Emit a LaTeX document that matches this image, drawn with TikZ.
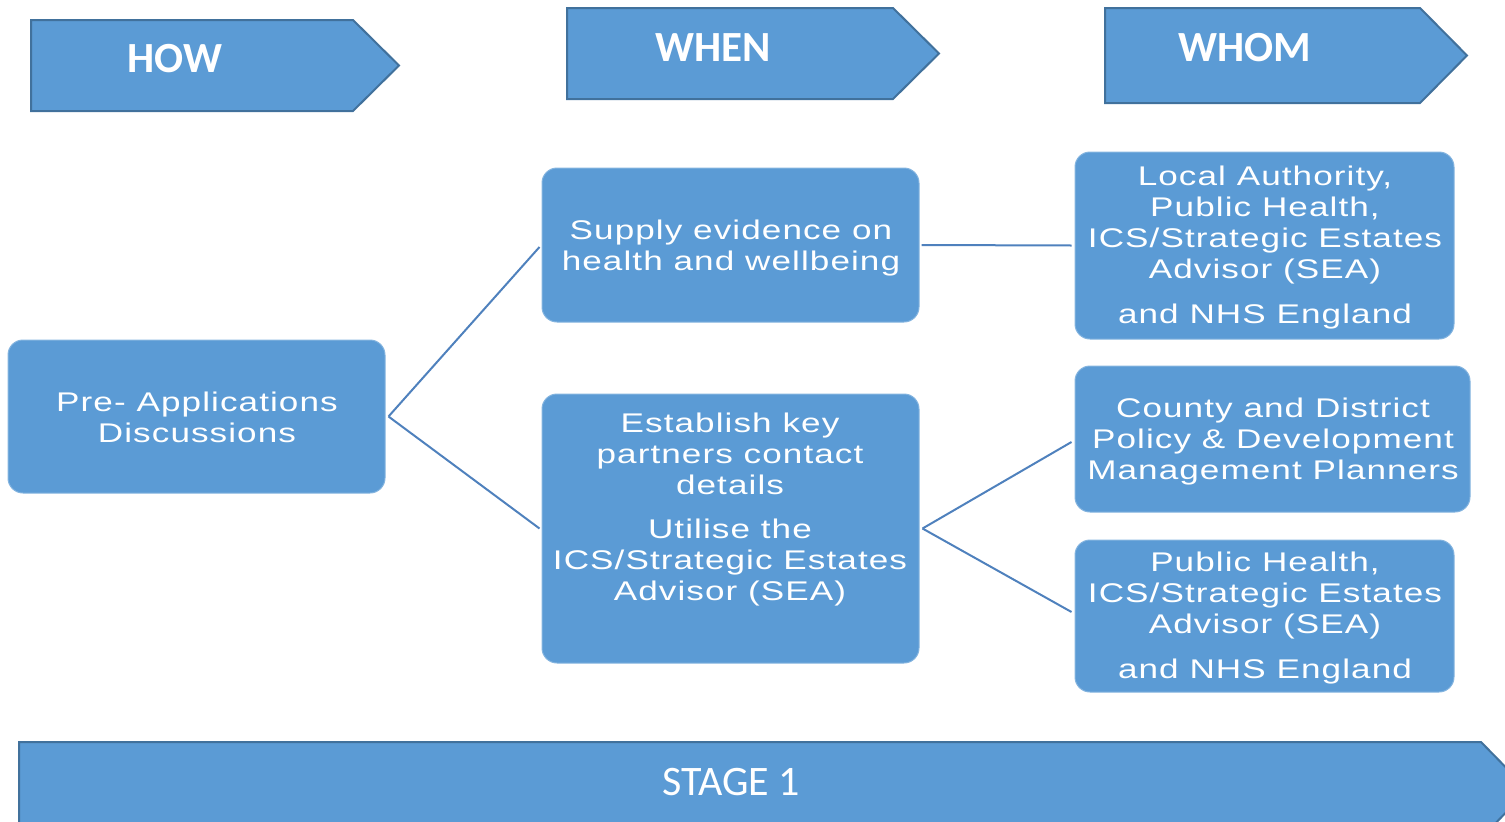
\documentclass[tikz,border=0pt]{standalone}
\usepackage{fontspec}
\setmainfont{Liberation Sans}
\newfontfamily\cardfont[FakeStretch=1.3,LetterSpace=4]{Liberation Sans}
\newfontfamily\headfont{Carlito}
\definecolor{boxblue}{HTML}{5B9BD5}
\definecolor{edgeblue}{HTML}{41719C}
\definecolor{linkblue}{HTML}{4F81BD}

\begin{document}
\begin{tikzpicture}[x=1pt,y=-1pt,
  banner/.style={fill=boxblue,draw=edgeblue,line width=2pt,line join=miter},
  bannertext/.style={text=white,inner sep=0pt,font=\headfont\bfseries\fontsize{43}{50}\selectfont},
  stagetext/.style={text=white,inner sep=0pt,font=\headfont\fontsize{42}{50}\selectfont},
  card/.style={fill=boxblue,draw=boxblue!75!white,line width=1pt,rounded corners=15pt,inner sep=0pt},
  cardtext/.style={text=white,align=center,inner sep=0pt,font=\cardfont\fontsize{27}{31}\selectfont},
  link/.style={draw=linkblue,line width=2pt}]

\useasboundingbox (0,0) rectangle (1505,822);
\clip (0,0) rectangle (1505,822);

% column banners
\draw[banner] (31,20) -- (353,20) -- (399,65.5) -- (353,111) -- (31,111) -- cycle;
\node[bannertext] (how) at (175,59) {HOW};
\draw[banner] (567,8) -- (893,8) -- (939,53.5) -- (893,99) -- (567,99) -- cycle;
\node[bannertext] (when) at (713,48) {WHEN};
\draw[banner] (1105,8) -- (1420,8) -- (1467,55.5) -- (1420,103) -- (1105,103) -- cycle;
\node[bannertext] (whom) at (1245,48) {WHOM};

% stage bar along the bottom
\draw[banner] (19,742) -- (1481,742) -- (1528,790) -- (1481,838) -- (19,838) -- cycle;
\node[stagetext] (stage) at (731,782) {STAGE 1};

% boxes
\node[card,minimum width=377pt,minimum height=153pt] (pre) at (196.5,416.5) {};
\node[card,minimum width=377pt,minimum height=154pt] (supply) at (730.5,245) {};
\node[card,minimum width=377pt,minimum height=269pt] (establish) at (730.5,528.5) {};
\node[card,minimum width=379pt,minimum height=187pt] (local) at (1264.5,245.5) {};
\node[card,minimum width=395pt,minimum height=146pt] (county) at (1272.5,439) {};
\node[card,minimum width=379pt,minimum height=152pt] (health) at (1264.5,616) {};

% box texts
\node[cardtext] (pre-t) at (197,417) {Pre- Applications\\Discussions};
\node[cardtext] (supply-t) at (731,248.5) {Supply evidence on\\health and wellbeing};
\node[cardtext] (establish-t) at (730,510) {Establish key\\partners contact\\details\\[13pt]Utilise the\\ICS/Strategic Estates\\Advisor (SEA)};
\node[cardtext] (local-t) at (1265,247.5) {Local Authority,\\Public Health,\\ICS/Strategic Estates\\Advisor (SEA)\\[14pt]and NHS England};
\node[cardtext] (county-t) at (1273,442) {County and District\\Policy \& Development\\Management Planners};
\node[cardtext] (health-t) at (1265,618.5) {Public Health,\\ICS/Strategic Estates\\Advisor (SEA)\\[14pt]and NHS England};

% connectors
\draw[link] ([xshift=3pt]pre.east) -- ([xshift=-2pt,yshift=-2pt]supply.west);
\draw[link] ([xshift=3pt]pre.east) -- ([xshift=-2pt]establish.west);
\draw[link] ([xshift=2pt]supply.east) -- ([xshift=-3pt]local.west);
\draw[link] ([xshift=3pt]establish.east) -- ([xshift=-3pt,yshift=-3pt]county.west);
\draw[link] ([xshift=3pt]establish.east) -- ([xshift=-3pt,yshift=4pt]health.west);
\end{tikzpicture}
\end{document}
